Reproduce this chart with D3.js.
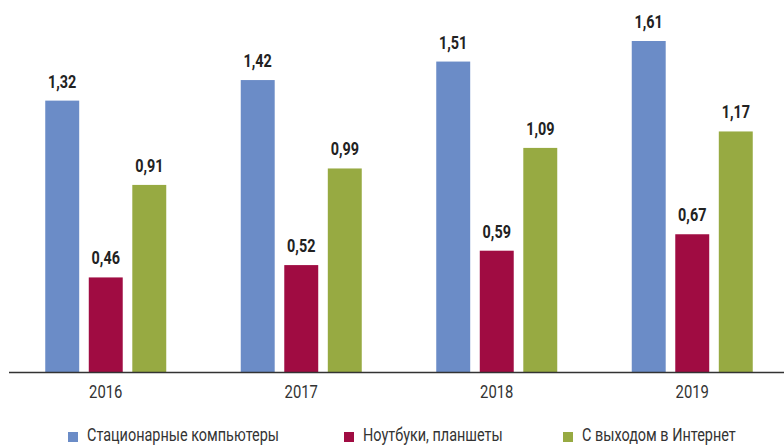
<!DOCTYPE html>
<html>
<head>
<meta charset="utf-8">
<script src="https://cdn.jsdelivr.net/npm/d3@7"></script>
<style>
  body { margin: 0; background: #fff; }
  svg { display: block; }
  text { font-family: Roboto, "Noto Sans", sans-serif; }
</style>
</head>
<body>
<div id="chart"></div>
<script>
const years = ["2016", "2017", "2018", "2019"];
const seriesNames = ["Стационарные компьютеры", "Ноутбуки, планшеты", "С выходом в Интернет"];
const desktops = [1.32, 1.42, 1.51, 1.61];
const laptops = [0.46, 0.52, 0.59, 0.67];
const online = [0.91, 0.99, 1.09, 1.17];
const colors = ["#6b8cc7", "#a00c42", "#97aa42"];

const series = [desktops, laptops, online];

const width = 784, height = 446;
const baseY = 372;

const svg = d3.select("#chart")
    .append("svg")
    .attr("width", width)
    .attr("height", height);

const x0 = d3.scaleBand()
    .domain(years)
    .range([8, 790]);

const x1 = d3.scaleBand()
    .domain(d3.range(series.length))
    .range([0, 121])
    .paddingInner(0.22);

// 1.61 sits at y=41
const y = d3.scaleLinear()
    .domain([0, 1.61])
    .range([baseY, 41]);

const fmt = v => v.toFixed(2).replace(".", ",");

const groups = svg.selectAll("g.year")
    .data(years)
    .join("g")
    .attr("class", "year")
    .attr("transform", d => `translate(${x0(d) + x0.bandwidth() / 2 - 60.5},0)`);

groups.each(function(year, yi) {
    const g = d3.select(this);
    series.forEach((vals, si) => {
        const v = vals[yi];
        g.append("rect")
            .attr("x", x1(si))
            .attr("y", y(v))
            .attr("width", x1.bandwidth())
            .attr("height", baseY - y(v))
            .attr("fill", colors[si]);
        // condensed look: squeeze the text horizontally
        g.append("text")
            .attr("transform", `translate(${x1(si) + x1.bandwidth() / 2},${y(v) - 13}) scale(0.8,1)`)
            .attr("text-anchor", "middle")
            .attr("font-size", 18)
            .attr("font-weight", "bold")
            .attr("fill", "#222")
            .text(fmt(v));
    });
});

// axis
const axis = svg.append("g")
    .attr("transform", `translate(0,${baseY})`)
    .call(d3.axisBottom(x0).tickSize(0).tickPadding(13));
axis.select(".domain")
    .attr("d", "M9,0.5H784")
    .attr("stroke", "#333")
    .attr("stroke-width", 1.5);
axis.selectAll(".tick text")
    .attr("font-family", null)
    .attr("font-size", 19)
    .attr("fill", "#333")
    .attr("transform", "scale(0.78,1)");

// legend
const legendX = [68, 344, 563];
const legend = svg.selectAll("g.legend")
    .data(seriesNames)
    .join("g")
    .attr("class", "legend")
    .attr("transform", (d, i) => `translate(${legendX[i]},432)`);
legend.append("rect")
    .attr("width", 10)
    .attr("height", 10)
    .attr("fill", (d, i) => colors[i]);
legend.append("text")
    .attr("transform", "translate(19,9) scale(0.76,1)")
    .attr("font-size", 19)
    .attr("fill", "#333")
    .text(d => d);
</script>
</body>
</html>
